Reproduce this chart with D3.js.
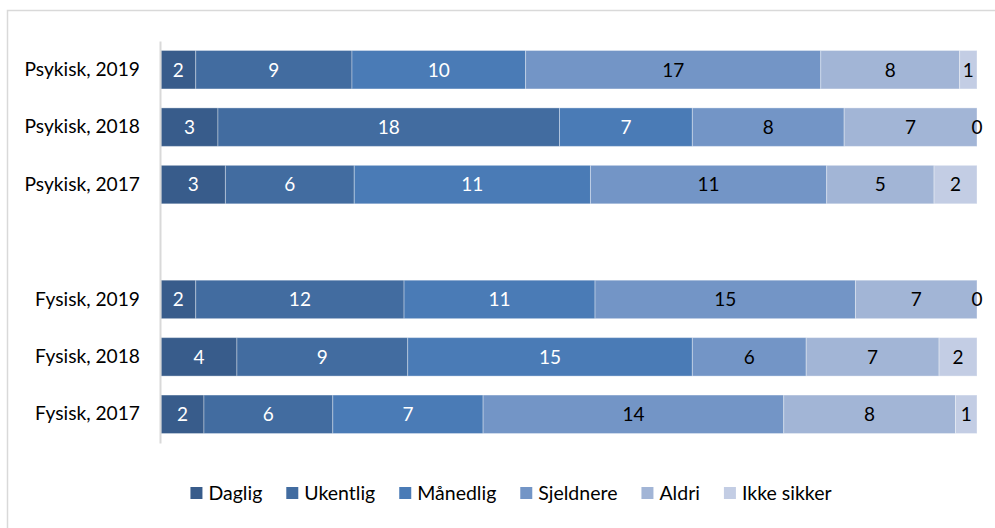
<!DOCTYPE html>
<html>
<head>
<meta charset="utf-8">
<script src="https://cdn.jsdelivr.net/npm/d3@7"></script>
<style>
  html, body { margin: 0; padding: 0; background: #fff; }
  svg { display: block; }
  text { font-family: Lato, "Open Sans", "Liberation Sans", sans-serif; }
</style>
</head>
<body>
<svg id="chart" width="995" height="528"></svg>
<script>
// ---- data ----
const categories = ["Psykisk, 2019", "Psykisk, 2018", "Psykisk, 2017", "", "Fysisk, 2019", "Fysisk, 2018", "Fysisk, 2017"];
const seriesNames = ["Daglig", "Ukentlig", "Månedlig", "Sjeldnere", "Aldri", "Ikke sikker"];
const daglig     = [2, 3, 3, null, 2, 4, 2];
const ukentlig   = [9, 18, 6, null, 12, 9, 6];
const maanedlig  = [10, 7, 11, null, 11, 15, 7];
const sjeldnere  = [17, 8, 11, null, 15, 6, 14];
const aldri      = [8, 7, 5, null, 7, 7, 8];
const ikkeSikker = [1, 0, 2, null, 0, 2, 1];
const colors = ["#385c8b", "#426ca0", "#4a7bb6", "#7395c6", "#a2b5d6", "#c3cde4"];
const labelColors = ["#ffffff", "#ffffff", "#ffffff", "#000000", "#000000", "#000000"];

const seriesValues = [daglig, ukentlig, maanedlig, sjeldnere, aldri, ikkeSikker];

// ---- layout ----
const svg = d3.select("#chart");
const plot = { left: 161, right: 977, top: 41, bottom: 443 };

// outer frame
svg.append("rect")
  .attr("x", 7.5).attr("y", 10.5)
  .attr("width", 1000).attr("height", 600)
  .attr("fill", "none").attr("stroke", "#d9d9d9").attr("stroke-width", 1.5);

const y = d3.scaleBand().domain(categories.map((c, i) => i)).range([plot.top, plot.bottom]).paddingInner(0.33).paddingOuter(0.165);
const x = d3.scaleLinear().domain([0, 1]).range([plot.left, plot.right]);

// build rows
const rows = categories.map((c, i) => {
  const vals = seriesValues.map(s => s[i]);
  if (vals[0] === null) return null;
  const total = d3.sum(vals);
  let cum = 0;
  return vals.map((v, k) => {
    const seg = { row: i, k, v, x0: cum / total, x1: (cum + v) / total };
    cum += v;
    return seg;
  });
}).filter(r => r);

const segs = rows.flat();

svg.append("g").selectAll("rect")
  .data(segs)
  .join("rect")
  .attr("x", d => x(d.x0))
  .attr("width", d => Math.max(0, x(d.x1) - x(d.x0)))
  .attr("y", d => y(d.row))
  .attr("height", y.bandwidth())
  .attr("fill", d => colors[d.k])
  .attr("stroke", "rgba(255,255,255,0.35)")
  .attr("stroke-width", 1);

svg.append("g").selectAll("text")
  .data(segs)
  .join("text")
  .attr("x", d => (x(d.x0) + x(d.x1)) / 2)
  .attr("y", d => y(d.row) + y.bandwidth() / 2)
  .attr("dy", "0.36em")
  .attr("text-anchor", "middle")
  .attr("font-size", 19)
  .attr("fill", d => labelColors[d.k])
  .text(d => d.v);

// axis
const yAxis = d3.axisLeft(y).tickSize(0).tickPadding(20).tickFormat(i => categories[i]);
const ag = svg.append("g").attr("transform", `translate(${plot.left - 1},0)`).call(yAxis);
ag.select(".domain").attr("stroke", "#d9d9d9").attr("stroke-width", 2);
ag.selectAll("text").attr("font-size", 19.2).attr("fill", "#000").attr("font-family", "Lato, 'Open Sans', sans-serif");

// legend
const legend = svg.append("g");
const items = legend.selectAll("g").data(seriesNames).join("g");
items.append("rect").attr("width", 12).attr("height", 12).attr("y", -6).attr("fill", (d, i) => colors[i]);
items.append("text").attr("x", 18).attr("dy", "0.36em").attr("font-size", 19.5).attr("fill", "#000").text(d => d);
let cx = 0;
const positions = [];
items.each(function(d) {
  const w = d3.select(this).select("text").node().getComputedTextLength();
  positions.push(cx);
  cx += 18 + w + 24;
});
const totalW = cx - 24;
const startX = 511 - totalW / 2;
items.attr("transform", (d, i) => `translate(${startX + positions[i]},493)`);
</script>
</body>
</html>
